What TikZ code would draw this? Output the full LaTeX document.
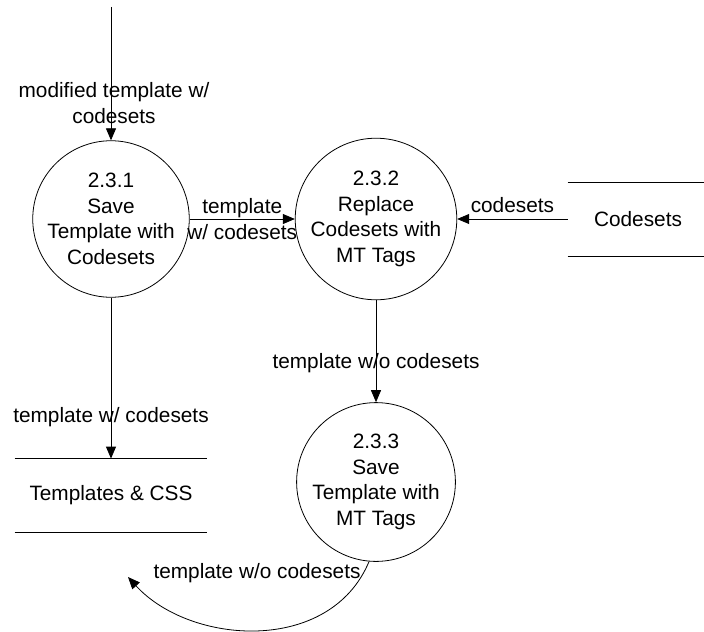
\documentclass[tikz,border=0pt]{standalone}
\usepackage{fontspec}
\setmainfont{Liberation Sans}
\usetikzlibrary{arrows.meta}
\begin{document}
\begin{tikzpicture}[x=0.5pt,y=-0.5pt,>={Triangle[length=6pt,width=5pt]},
	font=\fontsize{10.4}{12.8}\selectfont, line join=round,
	proc/.style={draw,circle,minimum size=72pt,inner sep=0pt,align=center},
	store/.style={inner sep=0pt,minimum height=36.5pt},
	lbl/.style={align=center,inner sep=1pt}]
	\useasboundingbox (0,0) rectangle (704,631);
	\path
	(111,219) node[proc] (p1) {2.3.1\\Save\\Template with\\Codesets}
	(376,219) node[proc] (p2) {2.3.2\\Replace\\Codesets with\\MT Tags}
	(376,482) node[proc] (p3) {2.3.3\\Save\\Template with\\MT Tags}
	(111,495.5) node[store,minimum width=96pt] (tcss) {Templates \& CSS}
	(638,219) node[store,minimum width=70pt] (cs) {Codesets}
	(111,7) coordinate (in1)
	(128,577) coordinate (back)
	;
	\draw (tcss.north west)--(tcss.north east) (tcss.south west)--(tcss.south east);
	\draw (cs.north west)--(cs.north east) (cs.south west)--(cs.south east);
	\draw[->] (in1)--(p1) node[lbl,pos=0.72,xshift=1.5pt] (l1) {modified template w/\\codesets};
	\draw[->] (p1)--(p2) node[lbl,midway] (l2) {template\\w/ codesets};
	\draw[->] (cs)--(p2) node[lbl,midway,above=2pt] (l3) {codesets};
	\draw[->] (p2)--(p3) node[lbl,pos=0.62] (l4) {template w/o codesets};
	\draw[->] (p1)--(tcss) node[lbl,pos=0.74] (l5) {template w/ codesets};
	\draw[->] (p3.265) .. controls (330,655) and (190,645) .. (back);
	\node[lbl] (l6) at (257,573) {template w/o codesets};
\end{tikzpicture}
\end{document}
